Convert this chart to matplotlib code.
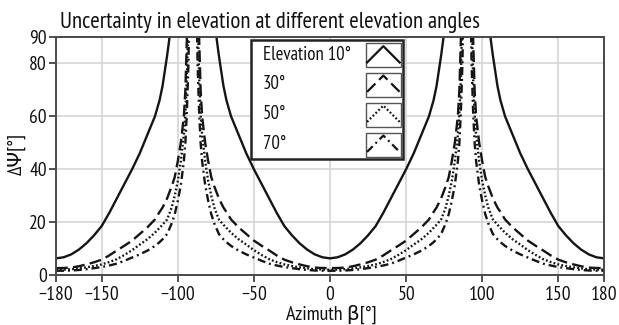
import numpy as np
import matplotlib
matplotlib.use('Agg')
import matplotlib.pyplot as plt
from matplotlib import font_manager as fm
from matplotlib.patches import Rectangle
from matplotlib.lines import Line2D

# Values for one quarter (azimuth 0..89 deg);
# the chart is mirror-symmetric about 0 and about +/-90 deg.
beta_q = [0, 5, 10, 15, 20, 25, 30, 35, 40, 45, 50, 55, 60, 65, 68, 70, 73, 76, 78, 80, 82, 84, 85, 86, 87, 88, 89]
elev_10 = [6.3, 6.7, 7.8, 9.6, 12.0, 15.0, 18.5, 23.5, 29.0, 34.5, 40.0, 46.0, 53.0, 60.0, 66.0, 71.5, 83.0,
           96.0, 110, 125, 145, 170, 185, 200, 220, 250, 300]
elev_30 = [2.6, 2.65, 2.8, 3.3, 4.0, 4.8, 5.8, 7.4, 9.3, 11.1, 13.0, 15.5, 18.0, 21.0, 23.8, 25.5, 29.0,
           33.5, 37.0, 43.0, 50.0, 60.0, 70.0, 90.0, 115, 160, 250]
elev_50 = [2.0, 2.05, 2.2, 2.5, 2.9, 3.4, 4.0, 4.9, 6.0, 7.6, 9.4, 11.5, 13.5, 16.0, 17.8, 19.0, 21.0,
           25.5, 30.0, 35.5, 43.0, 53.0, 61.0, 75.0, 100, 140, 220]
elev_70 = [1.6, 1.62, 1.7, 1.9, 2.2, 2.6, 3.0, 3.6, 4.3, 5.4, 6.6, 7.8, 9.2, 11.0, 12.4, 13.5, 15.5,
           19.5, 23.0, 28.0, 34.0, 43.0, 50.0, 62.0, 80.0, 115, 190]
labels = ['Elevation 10°', '30°', '50°', '70°']
xticks = [-180, -150, -100, -50, 0, 50, 100, 150, 180]
yticks = [0, 20, 40, 60, 80, 90]

# a narrow sans face, like the reference
available = {f.name for f in fm.fontManager.ttflist}
FONT, SCALE = 'Liberation Sans', 0.8
for name, sc in [('Liberation Sans Narrow', 1.0), ('Arial Narrow', 1.0), ('PT Sans Narrow', 1.0),
                 ('Roboto Condensed', 0.95), ('Archivo Narrow', 0.95), ('Pragati Narrow', 1.0)]:
    if name in available:
        FONT, SCALE = name, sc
        break
plt.rcParams['font.family'] = [FONT, 'DejaVu Sans']
plt.rcParams['lines.scale_dashes'] = False

INK = '#151515'
styles = [
    dict(linestyle='-'),
    dict(linestyle=(0, (8.5, 3.8))),
    dict(linestyle=(0, (1.3, 1.6))),
    dict(linestyle=(0, (5.8, 2.8, 1.4, 2.8))),
]


def full_curve(vals):
    q = np.array(beta_q, float)
    v = np.array(vals, float)
    x = np.concatenate([-180 + q, [np.nan], -q[::-1], q[1:], [np.nan], 180 - q[::-1]])
    y = np.concatenate([v, [np.nan], v[::-1], v[1:], [np.nan], v[::-1]])
    return x, y


W, H = 619, 325
fig = plt.figure(figsize=(W / 100, H / 100), dpi=100)
ax = fig.add_axes([56 / W, 1 - 275 / H, (604 - 56) / W, (275 - 37) / H])

for vals, st in zip([elev_10, elev_30, elev_50, elev_70], styles):
    x, y = full_curve(vals)
    ax.plot(x, y, color=INK, lw=1.7, **st)

ax.set_xlim(-180, 180)
ax.set_ylim(0, 90)
ax.set_xticks(xticks)
ax.set_yticks(yticks)
ax.grid(True, color='#d4d4d4', lw=1.2)
ax.set_axisbelow(True)
for s in ax.spines.values():
    s.set_color('#4a4a4a')
    s.set_linewidth(1.4)
ax.tick_params(direction='out', length=5, width=1.2, color='#333333',
               labelsize=14 * SCALE, labelcolor='#111111')
ax.tick_params(axis='x', pad=3)
ax.tick_params(axis='y', pad=1.5)


def fx(px):
    return px / W


def fy(py):
    return 1 - py / H


fig.text(fx(331), fy(314), 'Azimuth β[°]', fontsize=14.5 * SCALE, ha='center', va='center',
         color='#111111')
fig.text(fx(17), fy(154), 'ΔΨ[°]', fontsize=14.5 * SCALE, ha='center', va='center',
         rotation=90, color='#111111')
fig.text(fx(60), fy(28), 'Uncertainty in elevation at different elevation angles',
         fontsize=16.5 * SCALE, va='baseline', ha='left', color='#111111')

# legend drawn by hand (text on the left, framed tent-shaped handles on the right)
fig.add_artist(Rectangle((fx(250.7), fy(159)), (402.7 - 250.7) / W, (159 - 40) / H,
                         transform=fig.transFigure, facecolor='white',
                         edgecolor='#222222', lw=1.8, zorder=5))
row_tops = [43.3, 72.7, 102.7, 132.7]
row_mid = [55, 84, 113.7, 143.7]
bx0, bx1, bh = 366, 400.7, 24
for lab, st, top, mid in zip(labels, styles, row_tops, row_mid):
    fig.text(fx(263), fy(mid), lab, fontsize=13.5 * SCALE, va='center', ha='left',
             color='#111111', zorder=6)
    fig.add_artist(Rectangle((fx(bx0), fy(top + bh)), (bx1 - bx0) / W, bh / H,
                             transform=fig.transFigure, facecolor='white',
                             edgecolor='#555555', lw=1.0, zorder=6))
    bw = bx1 - bx0
    xs = [bx0 + 0.03 * bw, bx0 + 0.5 * bw, bx0 + 0.97 * bw]
    ys = [top + 0.8 * bh, top + 0.12 * bh, top + 0.8 * bh]
    fig.add_artist(Line2D([fx(v) for v in xs], [fy(v) for v in ys],
                          transform=fig.transFigure, color=INK, lw=1.6,
                          zorder=7, **st))

fig.savefig('out.png', dpi=100)
